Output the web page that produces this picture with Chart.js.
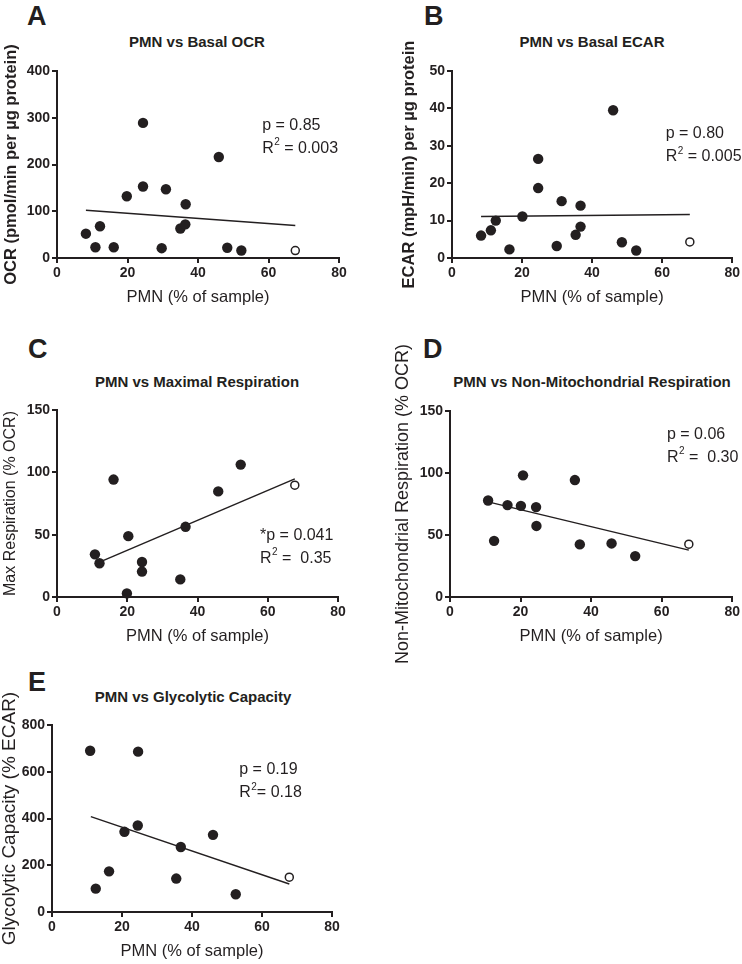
<!DOCTYPE html>
<html>
<head>
<meta charset="utf-8">
<script src="https://cdn.jsdelivr.net/npm/chart.js@4.4.1/dist/chart.umd.min.js"></script>
<style>
  body { margin: 0; background: #fff; font-family: "Liberation Sans", Arial, sans-serif; color: #231f20; }
  #fig { position: relative; width: 742px; height: 964px; overflow: hidden; }
  canvas { position: absolute; }
  .lbl { position: absolute; font-weight: bold; font-size: 27px; line-height: 1; }
  .ttl { position: absolute; font-weight: bold; font-size: 15px; line-height: 1; white-space: nowrap; transform: translateX(-50%); }
</style>
</head>
<body>
<div id="fig">
  <div class="lbl" style="left:27px;top:3px">A</div>
  <div class="lbl" style="left:424px;top:3px">B</div>
  <div class="lbl" style="left:28px;top:336px">C</div>
  <div class="lbl" style="left:423px;top:336px">D</div>
  <div class="lbl" style="left:28px;top:669px">E</div>

  <div class="ttl" style="left:197px;top:34px">PMN vs Basal OCR</div>
  <div class="ttl" style="left:592px;top:34px">PMN vs Basal ECAR</div>
  <div class="ttl" style="left:197px;top:374px">PMN vs Maximal Respiration</div>
  <div class="ttl" style="left:592px;top:374px">PMN vs Non-Mitochondrial Respiration</div>
  <div class="ttl" style="left:193px;top:689px">PMN vs Glycolytic Capacity</div>

  <canvas id="cA" width="370" height="307" style="left:0;top:0"></canvas>
  <canvas id="cB" width="344" height="307" style="left:398px;top:0"></canvas>
  <canvas id="cC" width="370" height="326" style="left:0;top:320px"></canvas>
  <canvas id="cD" width="350" height="346" style="left:392px;top:320px"></canvas>
  <canvas id="cE" width="372" height="321" style="left:-2px;top:640px"></canvas>
</div>
<script>
// A - basal OCR
const pmnA = [8.2, 10.9, 12.2, 16.1, 19.8, 24.4, 24.4, 29.7, 30.9, 35.0, 36.4, 36.5, 45.9, 48.3, 52.3];
const ocrA = [52, 23, 68, 23, 132, 153, 289, 21, 147, 63, 72, 115, 216, 22, 16];
const openA = [[67.6], [16]];
const fitA = [[8.2, 67.6], [102, 69.5]];

// B - basal ECAR
const pmnB = [8.3, 11.1, 12.5, 16.4, 20.1, 24.6, 24.6, 29.9, 31.3, 35.3, 36.7, 36.7, 46.0, 48.5, 52.6];
const ecarB = [6.0, 7.4, 10.0, 2.3, 11.1, 26.5, 18.7, 3.2, 15.2, 6.2, 14.0, 8.4, 39.5, 4.2, 2.0];
const openB = [[67.9], [4.3]];
const fitB = [[8.3, 67.9], [11.1, 11.6]];

// C - maximal respiration
const pmnC = [10.8, 12.1, 16.1, 19.9, 20.3, 24.2, 24.2, 35.1, 36.6, 45.9, 52.3];
const maxC = [34.2, 27.1, 94.2, 2.9, 48.8, 28.1, 20.4, 14.1, 56.3, 84.7, 106.2];
const openC = [[67.7], [89.7]];
const fitC = [[12.1, 67.7], [28, 94.8]];

// D - non-mitochondrial respiration
const pmnD = [10.8, 12.5, 16.3, 20.1, 20.7, 24.4, 24.5, 35.4, 36.8, 45.8, 52.5];
const nonD = [77.8, 45.3, 74.1, 73.5, 98.1, 72.5, 57.3, 94.3, 42.4, 43.2, 33.0];
const openD = [[67.7], [42.6]];
const fitD = [[10.8, 67.7], [76.7, 37.8]];

// E - glycolytic capacity
const pmnE = [10.9, 12.5, 16.3, 20.7, 24.5, 24.6, 35.5, 36.8, 46.0, 52.5];
const glyE = [690, 100, 174, 343, 370, 686, 143, 278, 330, 76];
const openE = [[67.8], [149]];
const fitE = [[11.1, 67.8], [408, 120]];

const xTicks = [0, 20, 40, 60, 80];

const ink = '#231f20';
const fam = '"Liberation Sans", Arial, sans-serif';
Chart.defaults.font.family = fam;
Chart.defaults.color = ink;

const pts = (xs, ys) => xs.map((x, i) => ({ x: x, y: ys[i] }));

// p value and R^2 text, anchored in data units
const statText = {
  id: 'statText',
  afterDatasetsDraw(chart, args, o) {
    const ctx = chart.ctx;
    const px = chart.scales.x.getPixelForValue(o.x);
    const py = chart.scales.y.getPixelForValue(o.y);
    ctx.save();
    ctx.fillStyle = ink;
    ctx.textAlign = 'left';
    ctx.textBaseline = 'middle';
    ctx.font = '16px ' + fam;
    ctx.fillText(o.p, px, py);
    const y2 = py + 23;
    let cx = px;
    ctx.fillText('R', cx, y2);
    cx += ctx.measureText('R').width + 0.5;
    ctx.font = '10px ' + fam;
    ctx.fillText('2', cx, y2 - 6);
    cx += ctx.measureText('2').width;
    ctx.font = '16px ' + fam;
    ctx.fillText(o.r2, cx, y2);
    ctx.restore();
  }
};

function panel(id, p) {
  new Chart(document.getElementById(id), {
    type: 'scatter',
    data: {
      datasets: [
        { data: pts(p.xs, p.ys), pointRadius: 5.2, backgroundColor: ink, borderWidth: 0, clip: false },
        { data: pts(p.open[0], p.open[1]), pointRadius: 4, backgroundColor: '#fff',
          borderColor: ink, borderWidth: 1.5, clip: false },
        { type: 'line', data: pts(p.fit[0], p.fit[1]), borderColor: ink, borderWidth: 1.5,
          pointRadius: 0, fill: false, clip: false }
      ]
    },
    options: {
      responsive: false,
      animation: false,
      events: [],
      layout: { padding: { top: p.top, right: p.right, left: 0, bottom: p.bottom || 0 } },
      plugins: {
        legend: { display: false },
        tooltip: { enabled: false },
        statText: p.stat
      },
      scales: {
        x: {
          type: 'linear', min: 0, max: 80,
          afterBuildTicks: s => { s.ticks = xTicks.map(v => ({ value: v })); },
          ticks: { font: { size: 14, weight: 'bold' }, padding: 2, color: ink },
          grid: { drawOnChartArea: false, tickLength: 5, color: ink, lineWidth: 2 },
          border: { display: true, color: ink, width: 2 },
          title: { display: true, text: 'PMN (% of sample)', font: { size: 16.5 }, padding: 0, color: ink },
          afterFit: s => { s.height = 49; }
        },
        y: {
          type: 'linear', min: 0, max: p.ymax,
          ticks: { stepSize: p.step, font: { size: 14, weight: 'bold' }, padding: 2, color: ink },
          grid: { drawOnChartArea: false, tickLength: 5, color: ink, lineWidth: 2 },
          border: { display: true, color: ink, width: 2 },
          title: { display: true, text: p.ytitle, font: p.yfont, padding: { top: p.ypad, bottom: 0 }, color: ink },
          afterFit: s => { s.width = p.ywidth; }
        }
      }
    },
    plugins: [statText]
  });
}

panel('cA', {
  xs: pmnA, ys: ocrA, open: openA, fit: fitA, ymax: 400, step: 100,
  top: 71, right: 31, ywidth: 57, ypad: 2,
  ytitle: 'OCR (pmol/min per µg protein)', yfont: { size: 16.5, weight: 'bold' },
  stat: { x: 58.2, y: 283, p: 'p = 0.85', r2: ' = 0.003' }
});
panel('cB', {
  xs: pmnB, ys: ecarB, open: openB, fit: fitB, ymax: 50, step: 10,
  top: 71, right: 9, ywidth: 54, ypad: 2,
  ytitle: 'ECAR (mpH/min) per µg protein', yfont: { size: 16.5, weight: 'bold' },
  stat: { x: 61, y: 33.2, p: 'p = 0.80', r2: ' = 0.005' }
});
panel('cC', {
  xs: pmnC, ys: maxC, open: openC, fit: fitC, ymax: 150, step: 50,
  top: 90, right: 32, ywidth: 57, ypad: 1,
  ytitle: 'Max Respiration (% OCR)', yfont: { size: 16 },
  stat: { x: 57.8, y: 49.5, p: '*p = 0.041', r2: ' =  0.35' }
});
panel('cD', {
  xs: pmnD, ys: nonD, open: openD, fit: fitD, ymax: 150, step: 50,
  top: 91, right: 9, bottom: 20, ywidth: 58, ypad: 0,
  ytitle: 'Non-Mitochondrial Respiration (% OCR)', yfont: { size: 18 },
  stat: { x: 61.5, y: 131, p: 'p = 0.06', r2: ' =  0.30' }
});
panel('cE', {
  xs: pmnE, ys: glyE, open: openE, fit: fitE, ymax: 800, step: 200,
  top: 85, right: 38, ywidth: 54, ypad: 0,
  ytitle: 'Glycolytic Capacity (% ECAR)', yfont: { size: 19 },
  stat: { x: 53.5, y: 608, p: 'p = 0.19', r2: '= 0.18' }
});
</script>
</body>
</html>
